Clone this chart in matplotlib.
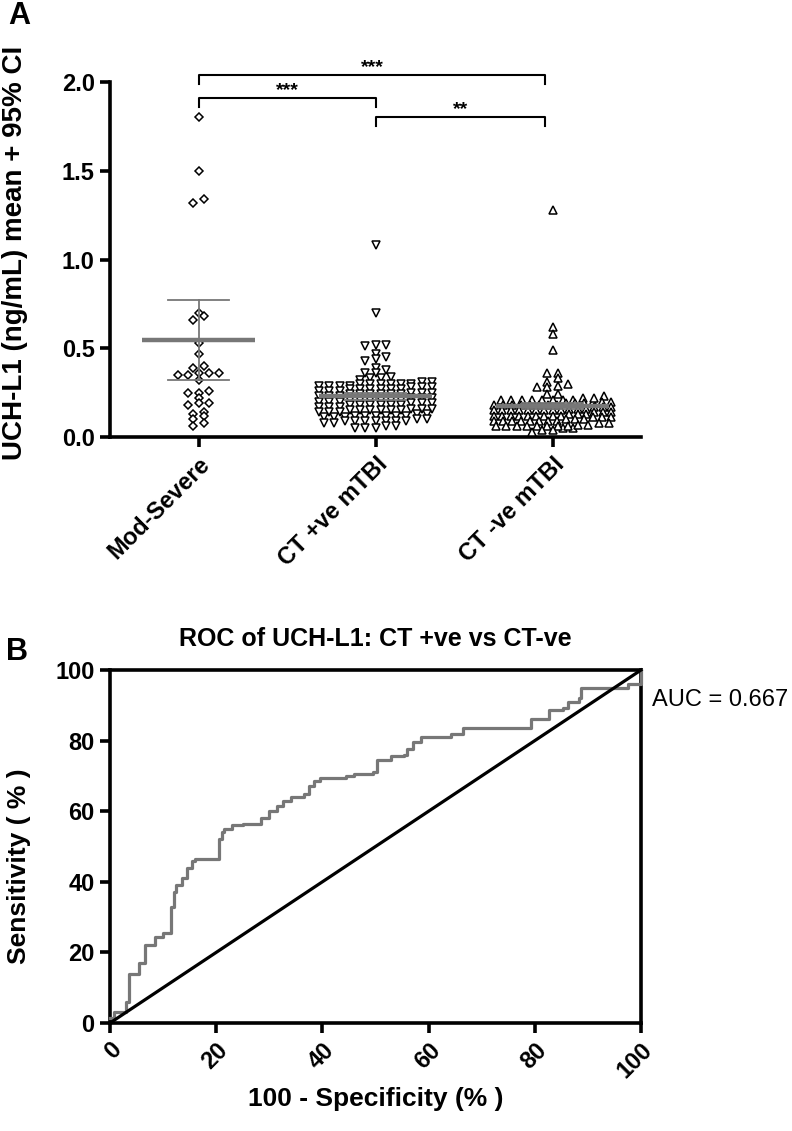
import numpy as np
import matplotlib.pyplot as plt

plt.rcParams['font.family'] = ['Liberation Sans', 'DejaVu Sans']

# ---- panel A data (UCH-L1, ng/mL) ----
groups = ['Mod-Severe', 'CT +ve mTBI', 'CT -ve mTBI']

mod_severe = [1.80, 1.50, 1.34, 1.32, 0.70, 0.68, 0.66, 0.53, 0.47, 0.40,
              0.39, 0.36, 0.36, 0.35, 0.35, 0.36, 0.32, 0.26, 0.25, 0.25,
              0.22, 0.19, 0.19, 0.18, 0.14, 0.13, 0.12, 0.10, 0.08, 0.06]

ct_pos = [1.08, 0.70, 0.52, 0.52, 0.51, 0.47, 0.45, 0.44, 0.43, 0.39,
          0.38, 0.36, 0.36, 0.34, 0.33, 0.33, 0.32,
          0.31, 0.31, 0.30, 0.30, 0.30, 0.30, 0.30, 0.29, 0.29, 0.29, 0.29, 0.30,
          0.28, 0.28, 0.27, 0.27, 0.27, 0.27, 0.27, 0.26, 0.26, 0.26, 0.27, 0.28,
          0.25, 0.25, 0.24, 0.24, 0.24, 0.24, 0.23, 0.23, 0.23, 0.24, 0.25, 0.24,
          0.22, 0.22, 0.21, 0.21, 0.21, 0.21, 0.20, 0.20, 0.20, 0.21, 0.22, 0.21,
          0.19, 0.19, 0.18, 0.18, 0.18, 0.18, 0.17, 0.17, 0.18, 0.19, 0.17, 0.18,
          0.16, 0.15, 0.15, 0.15, 0.15, 0.14, 0.14, 0.16, 0.15, 0.14, 0.15, 0.16,
          0.13, 0.12, 0.12, 0.12, 0.12, 0.11, 0.11, 0.12, 0.13, 0.12, 0.11,
          0.10, 0.09, 0.09, 0.09, 0.09, 0.08, 0.09, 0.10, 0.09, 0.08, 0.09,
          0.06, 0.05, 0.05, 0.05, 0.06]

ct_neg = [1.28, 0.62, 0.58, 0.49, 0.36, 0.36, 0.33, 0.31, 0.30, 0.29,
          0.28, 0.28, 0.24, 0.24, 0.23,
          0.21, 0.21, 0.21, 0.20, 0.20, 0.21, 0.22, 0.21, 0.20, 0.21, 0.21, 0.22, 0.21,
          0.19, 0.18, 0.18, 0.17, 0.18, 0.19, 0.18, 0.17, 0.18, 0.18, 0.19, 0.17, 0.18, 0.18,
          0.15, 0.15, 0.14, 0.16, 0.15, 0.15, 0.14, 0.15, 0.16, 0.15, 0.14, 0.15, 0.15, 0.16, 0.15,
          0.12, 0.12, 0.13, 0.11, 0.12, 0.12, 0.13, 0.12, 0.11, 0.12, 0.12, 0.13, 0.12, 0.11, 0.12,
          0.09, 0.09, 0.10, 0.08, 0.09, 0.09, 0.10, 0.09, 0.08, 0.09, 0.10, 0.09, 0.09,
          0.06, 0.06, 0.05, 0.06, 0.07, 0.06, 0.06, 0.05, 0.06, 0.06, 0.07, 0.06,
          0.04, 0.03, 0.04]

group_means = [0.545, 0.23, 0.175]
ci_low = [0.32, 0.21, 0.16]
ci_high = [0.77, 0.25, 0.19]

sig_pairs = [(0, 1.96), (0, 1), (1, 1.96)]
sig_labels = ['***', '***', '**']
sig_heights = [2.04, 1.91, 1.80]

# ---- panel B data (ROC, %) ----
roc_fpr = [0, 0.8, 2.5, 3.0, 3.5, 5.5, 6.5, 8.5, 10, 11.5, 12.0, 12.5, 13.5,
           14.5, 15.5, 16.0, 20.5, 21.0, 21.5, 23, 25, 28.5, 30, 31.5, 32.5,
           34, 36.5, 37.5, 38.5, 39.5, 44.5, 46, 49.5, 50.2, 53, 55.3, 56, 57,
           58.5, 63.7, 64.3, 66.5, 78, 79.3, 82, 82.7, 85.3, 86.2, 88.3, 88.7,
           97, 97.5, 100]
roc_tpr = [1.5, 3, 3, 6, 14, 17, 22, 24.5, 25.5, 33, 37, 39, 41,
           44, 46, 46.5, 52, 54, 55, 56, 56.5, 58, 60, 61.5, 63,
           64, 65, 67, 68.5, 69.5, 70, 70.5, 71, 74.5, 75.5, 76, 77.5, 79.5,
           81, 81, 82, 83.5, 83.5, 86, 86, 88.7, 89.2, 91, 92, 94.8,
           94.8, 96, 100]
auc_value = 0.667


def swarm_x(values, center, tol=0.021, step=0.058, half=0.33):
    v = np.asarray(values)
    xs = np.zeros(len(v))
    rows, row = [], []
    for i in np.argsort(v):
        if row and v[i] - v[row[0]] > tol:
            rows.append(row)
            row = []
        row.append(i)
    rows.append(row)
    for r in rows:
        n = len(r)
        sp = step if n < 2 else min(step, 2 * half / (n - 1))
        xs[r] = center + (np.arange(n) - (n - 1) / 2) * sp
    return xs


fig = plt.figure(figsize=(7.92, 11.31), dpi=100)
axA = fig.add_axes([0.1389, 0.6136, 0.6705, 0.3139])
axB = fig.add_axes([0.1389, 0.0955, 0.6705, 0.3121])

gray = '#777777'

# ---------- panel A ----------
markers = ['D', 'v', '^']
msizes = [4.3, 5.8, 5.8]
for i, vals in enumerate([mod_severe, ct_pos, ct_neg]):
    axA.plot(swarm_x(vals, i), vals, ls='none', marker=markers[i],
             ms=msizes[i], mfc='white', mec='black', mew=1.1, zorder=3)
    axA.plot([i - 0.32, i + 0.32], [group_means[i]] * 2, color=gray, lw=3.2,
             zorder=4, solid_capstyle='butt')
    axA.plot([i, i], [ci_low[i], ci_high[i]], color=gray, lw=1.3, zorder=4)
    for y in (ci_low[i], ci_high[i]):
        axA.plot([i - 0.17, i + 0.17], [y, y], color=gray, lw=1.3, zorder=4)

for (a, b), lab, h in zip(sig_pairs, sig_labels, sig_heights):
    axA.plot([a, a, b, b], [h - 0.05, h, h, h - 0.05], color='black', lw=1.5,
             clip_on=False)
    axA.text((a + b) / 2, h - 0.005, lab, ha='center', va='bottom',
             fontsize=14, fontweight='bold')

axA.set_xlim(-0.5, 2.5)
axA.set_ylim(0, 2.0)
axA.set_yticks([0, 0.5, 1.0, 1.5, 2.0])
axA.set_yticklabels(['0.0', '0.5', '1.0', '1.5', '2.0'])
axA.set_xticks([0, 1, 2])
axA.set_xticklabels(groups, rotation=45, ha='right', va='top',
                    rotation_mode='anchor')
axA.spines['top'].set_visible(False)
axA.spines['right'].set_visible(False)
axA.set_ylabel('UCH-L1 (ng/mL) mean + 95% CI', fontsize=20, fontweight='bold')
axA.yaxis.set_label_coords(-0.155, 0.52)

# ---------- panel B ----------
axB.step(roc_fpr, roc_tpr, where='post', color=gray, lw=2.3, clip_on=False,
         zorder=3)
axB.plot([0, 100], [0, 100], color='black', lw=2.3, clip_on=False, zorder=4)
axB.set_xlim(0, 100)
axB.set_ylim(0, 100)
axB.set_xticks(range(0, 101, 20))
axB.set_yticks(range(0, 101, 20))
plt.setp(axB.get_xticklabels(), rotation=45, ha='right', va='top',
         rotation_mode='anchor')
axB.set_ylabel('Sensitivity ( % )', fontsize=19, fontweight='bold')
axB.yaxis.set_label_coords(-0.148, 0.445)
axB.set_xlabel('100 - Specificity (% )', fontsize=19, fontweight='bold')
axB.xaxis.set_label_coords(0.5, -0.18)
axB.text(0.5, 1.055, 'ROC of UCH-L1: CT +ve vs CT-ve', transform=axB.transAxes,
         ha='center', va='bottom', fontsize=18, fontweight='bold')
axB.text(1.02, 0.915, 'AUC = %.3f' % auc_value, transform=axB.transAxes,
         ha='left', va='center', fontsize=17)

for ax in (axA, axB):
    for s in ax.spines.values():
        s.set_linewidth(2.6)
    ax.tick_params(direction='out', length=7, width=2.6, labelsize=17,
                   pad=4)
    for t in ax.get_xticklabels() + ax.get_yticklabels():
        t.set_fontweight('bold')

fig.text(0.010, 0.986, 'A', fontsize=22, fontweight='bold', va='center')
fig.text(0.008, 0.4235, 'B', fontsize=22, fontweight='bold', va='center')

fig.savefig('out.png', dpi=100)
